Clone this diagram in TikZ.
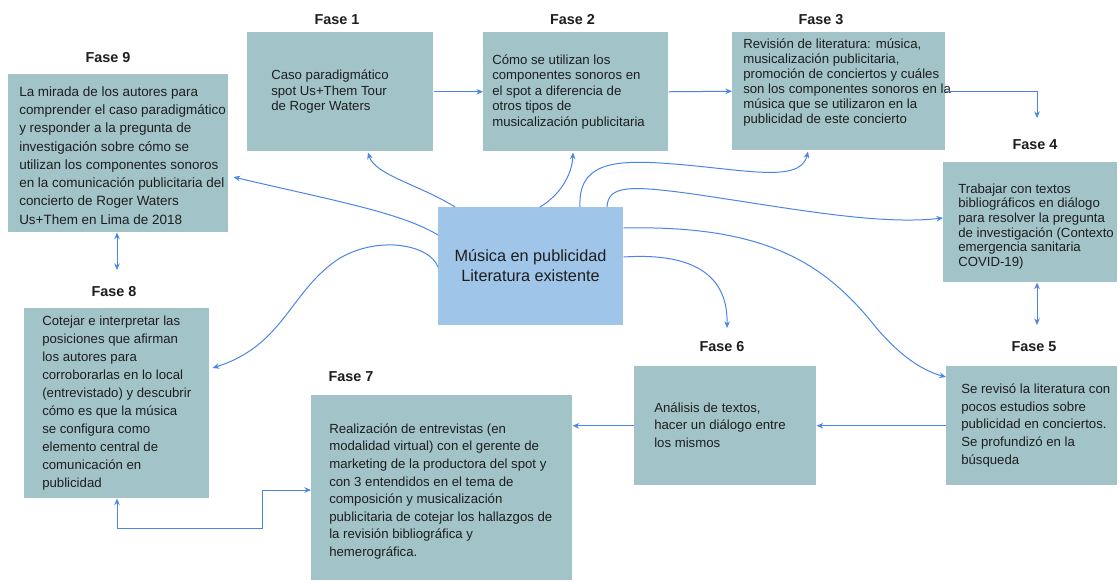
\documentclass[tikz,border=0pt]{standalone}
\usepackage{fontspec}
\setmainfont{Liberation Sans}
\usetikzlibrary{arrows.meta,calc}
\definecolor{boxc}{HTML}{A2C4C9}
\definecolor{cenc}{HTML}{9FC5E8}
\definecolor{arr}{HTML}{4A86E8}
\definecolor{txtc}{HTML}{1E1E1E}
\begin{document}
\begin{tikzpicture}[x=0.75pt,y=-0.75pt,
  box/.style={rectangle,fill=boxc,inner sep=0,anchor=north west},
  cbox/.style={rectangle,fill=cenc,inner sep=0,anchor=north west},
  fasetitle/.style={font=\fontsize{10.8}{13}\selectfont\bfseries,inner sep=0,text=txtc},
  txt/.style={inner sep=0,anchor=north west,align=left,text=txtc},
  conn/.style={draw=arr,line width=0.75pt,-{Stealth[length=5pt,width=4.2pt]}},
  conn2/.style={draw=arr,line width=0.75pt,{Stealth[length=5pt,width=4.2pt]}-{Stealth[length=5pt,width=4.2pt]}}]
\fill[white] (0,0) rectangle (1119,582);
\useasboundingbox (0,0) rectangle (1119,582);

% boxes
\node[box,minimum width=165pt,minimum height=118.5pt] (f9) at (8,74) {};
\node[box,minimum width=139.5pt,minimum height=89.25pt] (f1) at (247,32) {};
\node[box,minimum width=138.75pt,minimum height=89.25pt] (f2) at (483,32) {};
\node[box,minimum width=159.75pt,minimum height=88.5pt] (f3) at (732,32) {};
\node[box,minimum width=130.5pt,minimum height=90pt] (f4) at (943,162) {};
\node[box,minimum width=128.25pt,minimum height=89.25pt] (f5) at (946,366) {};
\node[box,minimum width=136.5pt,minimum height=89.25pt] (f6) at (634,366) {};
\node[box,minimum width=195.75pt,minimum height=138.75pt] (f7) at (311,395) {};
\node[box,minimum width=138.75pt,minimum height=142.5pt] (f8) at (24,308) {};
\node[cbox,minimum width=138.75pt,minimum height=88.5pt] (c) at (438,207) {};

% titles
\node[fasetitle] (h9) at (108,58) {Fase 9};
\node[fasetitle] (h1) at (337,20) {Fase 1};
\node[fasetitle] (h2) at (572.5,20) {Fase 2};
\node[fasetitle] (h3) at (821,20) {Fase 3};
\node[fasetitle] (h4) at (1035,145) {Fase 4};
\node[fasetitle] (h5) at (1034,347) {Fase 5};
\node[fasetitle] (h6) at (722,347) {Fase 6};
\node[fasetitle] (h7) at (351,377) {Fase 7};
\node[fasetitle] (h8) at (114,292) {Fase 8};

% texts
\node[txt,font=\fontsize{10.1}{13.7}\selectfont] (t9) at (19,83.2) {\strut La mirada de los autores para\\comprender el caso paradigmático\\y responder a la pregunta de\\investigación sobre cómo se\\utilizan los componentes sonoros\\en la comunicación publicitaria del\\concierto de Roger Waters\\Us+Them en Lima de 2018};
\node[txt,font=\fontsize{9.9}{11.8}\selectfont] (t1) at (271,68) {\strut Caso paradigmático\\spot Us+Them Tour\\de Roger Waters};
\node[txt,font=\fontsize{9.9}{11.6}\selectfont] (t2) at (492,53.2) {\strut Cómo se utilizan los\\componentes sonoros en\\el spot a diferencia de\\otros tipos de\\musicalización publicitaria};
\node[txt,font=\fontsize{9.9}{11.25}\selectfont] (t3) at (743,37.5) {\strut Revisión de literatura: música,\\musicalización publicitaria,\\promoción de conciertos y cuáles\\son los componentes sonoros en la\\música que se utilizaron en la\\publicidad de este concierto};
\node[txt,font=\fontsize{9.9}{11}\selectfont] (t4) at (958,182.7) {\strut Trabajar con textos\\bibliográficos en diálogo\\para resolver la pregunta\\de investigación (Contexto\\emergencia sanitaria\\COVID-19)};
\node[txt,font=\fontsize{9.9}{13.3}\selectfont] (t5) at (961,380.6) {\strut Se revisó la literatura con\\pocos estudios sobre\\publicidad en conciertos.\\Se profundizó en la\\búsqueda};
\node[txt,font=\fontsize{9.9}{13.1}\selectfont] (t6) at (654,399.75) {\strut Análisis de textos,\\hacer un diálogo entre\\los mismos};
\node[txt,font=\fontsize{9.9}{13.2}\selectfont] (t7) at (329,420.7) {\strut Realización de entrevistas (en\\modalidad virtual) con el gerente de\\marketing de la productora del spot y\\con 3 entendidos en el tema de\\composición y musicalización\\publicitaria de cotejar los hallazgos de\\la revisión bibliográfica y\\hemerográfica.};
\node[txt,font=\fontsize{9.9}{13.5}\selectfont] (t8) at (42,312.4) {\strut Cotejar e interpretar las\\posiciones que afirman\\los autores para\\corroborarlas en lo local\\(entrevistado) y descubrir\\cómo es que la música\\se configura como\\elemento central de\\comunicación en\\publicidad};
\node[inner sep=0,align=center,text=txtc,font=\fontsize{12.2}{15}\selectfont] (tc) at (530.5,266) {Música en publicidad\\Literatura existente};

% coordinates for free ends
\coordinate (c34) at (1037,118);
\coordinate (c45) at (1037,325);
\coordinate (c98) at (117,270);
\coordinate (k1) at (262,528);
\coordinate (k2) at (262,490);

% straight connectors
\draw[conn] (f1.east) -- (f2.west);
\draw[conn] (f2.east) -- (f3.west);
\draw[conn] (f3.east) -| (c34);
\draw[conn2] (c45 |- f4.south) -- (c45);
\draw[conn] (f5.west) -- (f6.east);
\draw[conn] (f6.west) -- (f6.west -| f7.east);
\draw[conn2] (c98 |- f8.south) |- (k1) -- (k2) -- (k2 -| f7.west);
\draw[conn2] (c98 |- f9.south) -- (c98);

% curved connectors from the centre
\draw[conn] ($(c.north west)+(17,0)$) .. controls (420,185) and (375,175) .. ($(f1.south west)+(121,1)$);
\draw[conn] ($(c.north west)+(0,28)$) .. controls (400,212) and (330,200) .. ($(f9.north east)+(5,103)$);
\draw[conn] ($(c.north west)+(0,60)$) .. controls (430,245) and (380,235) .. (340,258) .. controls (290,290) and (285,345) .. ($(f8.north east)+(3,60)$);
\draw[conn] ($(c.north west)+(102,0)$) .. controls (560,195) and (572,175) .. ($(f2.south west)+(90,1)$);
\draw[conn] ($(c.north west)+(142,0)$) .. controls (578,165) and (610,160) .. (660,163) .. controls (740,168) and (800,185) .. ($(f3.south west)+(76,1)$);
\draw[conn] ($(c.north west)+(169,0)$) .. controls (608,185) and (630,185) .. (700,195) .. controls (800,210) and (880,225) .. ($(f4.north west)+(0,56)$);
\draw[conn] ($(c.north east)+(0,21)$) .. controls (760,225) and (820,260) .. (870,320) .. controls (895,352) and (920,370) .. ($(f5.north west)+(0,11)$);
\draw[conn] ($(c.north east)+(0,50)$) .. controls (700,252) and (728,280) .. ($(f6.north west)+(93,-38)$);
\end{tikzpicture}
\end{document}
